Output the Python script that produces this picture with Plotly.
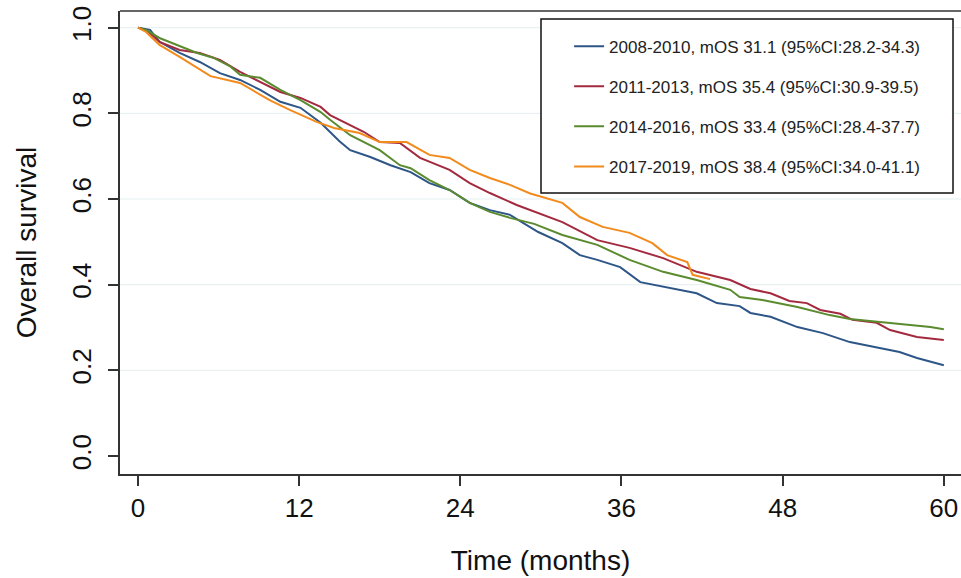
import plotly.graph_objects as go

# ---- data ----
series_names = [
    "2008-2010, mOS 31.1 (95%CI:28.2-34.3)",
    "2011-2013, mOS 35.4 (95%CI:30.9-39.5)",
    "2014-2016, mOS 33.4 (95%CI:28.4-37.7)",
    "2017-2019, mOS 38.4 (95%CI:34.0-41.1)",
]

months_0810 = [0, 0.9, 1.6, 3.1, 4.6, 6.1, 7.6, 9.1, 10.6, 12.1, 13.6, 15.0, 15.8, 17.3, 18.8,
               20.3, 21.7, 23.2, 24.7, 26.2, 27.7, 29.2, 29.8, 31.6, 32.9, 34.2, 35.9, 37.4,
               39.1, 41.6, 43.1, 44.8, 45.6, 47.1, 49.1, 51.0, 53.0, 54.7, 56.7, 58.0, 60.0]
surv_0810 = [1.0, 0.995, 0.967, 0.941, 0.920, 0.894, 0.878, 0.855, 0.827, 0.813, 0.778, 0.735,
             0.714, 0.698, 0.679, 0.663, 0.637, 0.621, 0.591, 0.574, 0.563, 0.535, 0.523, 0.497,
             0.469, 0.458, 0.441, 0.406, 0.395, 0.380, 0.357, 0.350, 0.334, 0.325, 0.301, 0.287,
             0.266, 0.255, 0.243, 0.229, 0.212]

months_1113 = [0, 0.6, 1.6, 3.1, 4.6, 6.1, 7.6, 9.1, 10.6, 12.1, 13.6, 14.3, 15.0, 16.8, 18.0,
               19.5, 21.0, 23.2, 24.7, 26.2, 28.2, 29.5, 31.6, 34.2, 36.6, 39.1, 41.6, 44.1,
               45.6, 47.1, 48.5, 49.8, 50.8, 52.3, 53.2, 55.0, 56.0, 58.0, 60.0]
surv_1113 = [1.0, 0.995, 0.967, 0.948, 0.941, 0.925, 0.897, 0.873, 0.850, 0.836, 0.815, 0.796,
             0.785, 0.757, 0.733, 0.731, 0.696, 0.668, 0.637, 0.614, 0.586, 0.570, 0.546, 0.504,
             0.486, 0.462, 0.430, 0.411, 0.390, 0.380, 0.362, 0.357, 0.341, 0.332, 0.318, 0.311,
             0.294, 0.278, 0.271]

months_1416 = [0, 0.6, 1.6, 3.1, 4.4, 5.6, 6.9, 7.6, 9.1, 10.6, 12.1, 13.6, 14.3, 15.8, 18.0,
               19.5, 20.3, 21.7, 23.2, 24.7, 26.2, 27.7, 29.5, 31.6, 34.2, 36.6, 39.1, 41.6,
               44.1, 44.8, 46.5, 49.1, 51.5, 53.0, 55.2, 57.0, 59.0, 60.0]
surv_1416 = [1.0, 0.995, 0.976, 0.957, 0.941, 0.930, 0.909, 0.890, 0.883, 0.855, 0.831, 0.803,
             0.785, 0.749, 0.714, 0.679, 0.672, 0.644, 0.621, 0.591, 0.570, 0.556, 0.542, 0.516,
             0.493, 0.458, 0.430, 0.411, 0.388, 0.371, 0.364, 0.348, 0.329, 0.320, 0.313, 0.306,
             0.301, 0.296]

months_1719 = [0, 0.6, 1.6, 3.1, 5.4, 7.6, 9.8, 11.3, 13.3, 14.6, 16.5, 18.0, 20.0, 21.7, 23.2,
               24.7, 26.2, 27.7, 29.2, 31.6, 32.9, 34.6, 36.6, 38.3, 39.4, 40.9, 41.3, 42.6]
surv_1719 = [1.0, 0.99, 0.96, 0.932, 0.887, 0.871, 0.831, 0.808, 0.780, 0.766, 0.754, 0.733,
             0.733, 0.703, 0.696, 0.668, 0.649, 0.633, 0.613, 0.591, 0.558, 0.535, 0.521, 0.497,
             0.469, 0.453, 0.423, 0.413]

x_ticks = [0, 12, 24, 36, 48, 60]
y_ticks = [0.0, 0.2, 0.4, 0.6, 0.8, 1.0]
grid_values = [0.2, 0.4, 0.6, 0.8, 1.0]

colors = ["#2d5687", "#a32a3e", "#5a8b2e", "#f28a1c"]

# ---- figure ----
fig = go.Figure()
all_x = [months_0810, months_1113, months_1416, months_1719]
all_y = [surv_0810, surv_1113, surv_1416, surv_1719]
for i, (xs, ys) in enumerate(zip(all_x, all_y)):
    fig.add_trace(go.Scatter(
        x=xs, y=ys, mode="lines", name=series_names[i],
        line=dict(color=colors[i], width=2), legendgroup=f"g{i}",
    ))

shapes = []
for g in grid_values:
    shapes.append(dict(type="line", xref="paper", yref="y", x0=0, x1=1, y0=g, y1=g,
                       line=dict(color="#e4eef0", width=1), layer="below"))
# legend frame (white box covering gridlines)
shapes.append(dict(type="rect", xref="paper", yref="paper",
                   x0=0.5006, x1=0.9905, y0=0.6069, y1=0.9827,
                   line=dict(color="#111111", width=1.5), fillcolor="white", layer="below"))
# top frame line
shapes.append(dict(type="line", xref="paper", yref="paper", x0=0, x1=1, y0=1, y1=1,
                   line=dict(color="#333333", width=1.5)))

fig.update_layout(
    width=961, height=578,
    margin=dict(l=120, r=0, t=11, b=104),
    paper_bgcolor="white", plot_bgcolor="white",
    font=dict(family="Arial, Liberation Sans, sans-serif", color="#111111"),
    shapes=shapes,
    showlegend=True,
    legend=dict(
        x=0.534, y=0.962, xanchor="left", yanchor="top",
        bgcolor="rgba(0,0,0,0)", borderwidth=0,
        font=dict(size=17, color="#222222"),
        traceorder="grouped", tracegroupgap=15,
    ),
    xaxis=dict(
        range=[-1.34, 61.28], tickvals=x_ticks, ticktext=[str(v) for v in x_ticks],
        showgrid=False, zeroline=False, showline=True, linecolor="#333333", linewidth=1.5,
        ticks="outside", ticklen=10, tickwidth=1.5, tickcolor="#333333",
        tickfont=dict(size=26, color="#111111"), ticklabelstandoff=0,
        title=dict(text="Time (months)", font=dict(size=28, color="#111111"), standoff=28),
    ),
    yaxis=dict(
        range=[-0.042, 1.039], tickvals=y_ticks, ticktext=[f"{v:.1f}" for v in y_ticks],
        tickangle=-90,
        showgrid=False, zeroline=False, showline=True, linecolor="#333333", linewidth=1.5,
        ticks="outside", ticklen=10, tickwidth=1.5, tickcolor="#333333",
        tickfont=dict(size=26, color="#111111"), ticklabelstandoff=7,
        title=dict(text="Overall survival", font=dict(size=28, color="#111111"), standoff=22),
    ),
)

fig.write_html("out.html", config={"displayModeBar": False},
               post_script="document.body.style.margin='0px';")
